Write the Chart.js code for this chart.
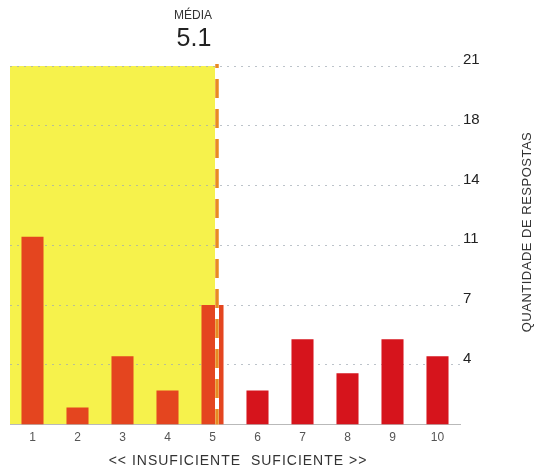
<!DOCTYPE html>
<html>
<head>
<meta charset="utf-8">
<script src="https://cdn.jsdelivr.net/npm/chart.js@4"></script>
<style>
  html, body { margin: 0; padding: 0; background: #fff; }
  #wrap { width: 534px; height: 470px; position: relative; }
</style>
</head>
<body>
<div id="wrap"><canvas id="c"></canvas></div>
<script>
// notas (1..10) e quantidade de respostas
const notas = ['1', '2', '3', '4', '5', '6', '7', '8', '9', '10'];
const respostas = [11, 1, 4, 2, 7, 2, 5, 3, 5, 4];
const media = 5.1;
const yTicks = [3.5, 7, 10.5, 14, 17.5, 21];

const FONT = '"Liberation Sans", Arial, sans-serif';

// yellow "insuficiente" band + mean line + labels
const mediaPlugin = {
  id: 'media',
  beforeDraw(chart) {
    const { ctx, chartArea, scales } = chart;
    const xm = scales.x.getPixelForValue(media - 1);
    ctx.save();
    ctx.fillStyle = '#f6f24c';
    ctx.fillRect(chartArea.left, chartArea.top, xm - chartArea.left, chartArea.bottom - chartArea.top);
    ctx.restore();
  },
  afterDatasetsDraw(chart) {
    const { ctx, chartArea, scales } = chart;
    const xm = scales.x.getPixelForValue(media - 1);
    ctx.save();
    ctx.strokeStyle = '#ffffff';
    ctx.lineWidth = 4;
    ctx.beginPath();
    ctx.moveTo(xm, chartArea.top);
    ctx.lineTo(xm, chartArea.bottom);
    ctx.stroke();
    ctx.strokeStyle = '#e98a22';
    ctx.lineWidth = 3.5;
    ctx.setLineDash([19, 11]);
    ctx.lineDashOffset = 15;
    ctx.beginPath();
    ctx.moveTo(xm, chartArea.top - 2);
    ctx.lineTo(xm, chartArea.bottom);
    ctx.stroke();
    ctx.setLineDash([]);

    ctx.textAlign = 'center';
    ctx.textBaseline = 'middle';
    ctx.fillStyle = '#333';
    ctx.font = '12px ' + FONT;
    ctx.fillText('MÉDIA', xm - 24, 16);
    ctx.fillStyle = '#222';
    ctx.font = '25px ' + FONT;
    ctx.fillText(media.toFixed(1), xm - 23, 39);

    // x axis caption
    ctx.fillStyle = '#333';
    ctx.font = '14px ' + FONT;
    ctx.letterSpacing = '1px';
    ctx.fillText('<< INSUFICIENTE  SUFICIENTE >>', 238, 461);

    // vertical axis title, reading bottom to top
    ctx.letterSpacing = '0.5px';
    ctx.translate(527, 232);
    ctx.rotate(-Math.PI / 2);
    ctx.font = '13px ' + FONT;
    ctx.fillText('QUANTIDADE DE RESPOSTAS', 0, 0);
    ctx.restore();
  }
};

new Chart(document.getElementById('c'), {
  type: 'bar',
  data: {
    labels: notas,
    datasets: [{
      data: respostas,
      backgroundColor: respostas.map((v, i) => (i < 5 ? '#e4451f' : '#d6141c')),
      borderWidth: 0,
      barPercentage: 0.49,
      categoryPercentage: 1
    }]
  },
  options: {
    responsive: true,
    maintainAspectRatio: false,
    animation: false,
    layout: { padding: { top: 66, left: 10, right: 0, bottom: 19 } },
    plugins: {
      legend: { display: false },
      tooltip: { enabled: false }
    },
    scales: {
      x: {
        grid: { display: false, drawTicks: false },
        border: { display: true, color: '#b9b9b9', width: 1 },
        ticks: { color: '#555', font: { family: FONT, size: 12 }, padding: 6 }
      },
      y: {
        position: 'right',
        min: 0,
        max: 21,
        afterBuildTicks(axis) {
          axis.ticks = yTicks.map(v => ({ value: v }));
        },
        afterFit(axis) { axis.width = 74; },
        grid: {
          drawTicks: false,
          color: 'rgba(160,170,180,0.7)',
          lineWidth: 1
        },
        border: { display: false, dash: [2, 5] },
        ticks: {
          color: '#222',
          font: { family: FONT, size: 15 },
          padding: 3,
          labelOffset: -6,
          callback: v => String(Math.round(v))
        }
      }
    }
  },
  plugins: [mediaPlugin]
});
</script>
</body>
</html>
